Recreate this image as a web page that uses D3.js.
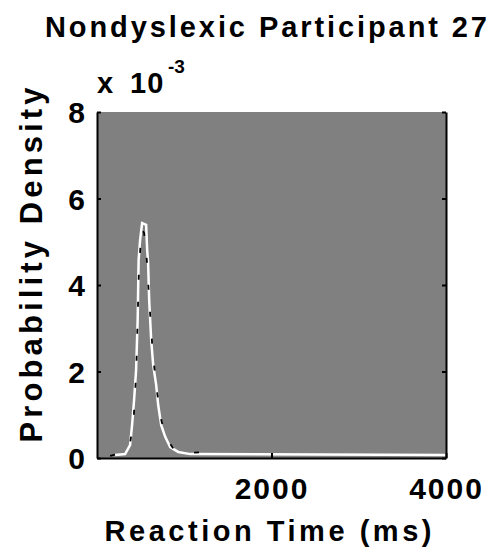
<!DOCTYPE html>
<html>
<head>
<meta charset="utf-8">
<script src="https://cdn.jsdelivr.net/npm/d3@7"></script>
<style>
  body { margin: 0; background: #fff; }
  text { font-family: "Liberation Sans", Arial, sans-serif; font-weight: bold; fill: #000; }
</style>
</head>
<body>
<div class="chart"></div>
<script>
// reaction time (ms) and empirical density (white line)
const rtMs = [207, 322, 379, 402, 425, 448, 466, 477, 494, 517, 563, 575, 586, 598, 621, 644, 678, 701, 736, 782, 839, 931, 1069, 4000];
const densityEmp = [0.00007, 0.00009, 0.0003, 0.00076, 0.00134, 0.00203, 0.00319, 0.00458, 0.00504, 0.00543, 0.00539, 0.00481, 0.00451, 0.00365, 0.00273, 0.00215, 0.00169, 0.00123, 0.00076, 0.00049, 0.00025, 0.00014, 0.00009, 0.00007];

// fitted density (black dashed line)
const fitMs = [150, 300, 380, 420, 450, 480, 510, 540, 570, 600, 640, 690, 740, 800, 880, 1000, 1180, 1300];
const densityFit = [0.00005, 0.00012, 0.00035, 0.0009, 0.002, 0.0043, 0.0053, 0.0052, 0.0046, 0.0036, 0.0024, 0.0015, 0.00085, 0.00045, 0.0002, 0.00012, 0.00013, 0.00008];

const xTicks = [2000, 4000];
const yTicks = [0, 0.002, 0.004, 0.006, 0.008];

const titleText = "Nondyslexic Participant 27";
const xLabel = "Reaction Time (ms)";
const yLabel = "Probability Density";

const svgWidth = 491;
const svgHeight = 548;

const plot = { left: 97, right: 446, top: 112, bottom: 458 };

const svg = d3.select(".chart")
    .append("svg")
    .attr("width", svgWidth)
    .attr("height", svgHeight);

const x = d3.scaleLinear().domain([0, 4000]).range([plot.left, plot.right]);
const y = d3.scaleLinear().domain([0, 0.008]).range([plot.bottom, plot.top]);

// gray background of axes
svg.append("rect")
    .attr("x", plot.left)
    .attr("y", plot.top)
    .attr("width", plot.right - plot.left)
    .attr("height", plot.bottom - plot.top)
    .attr("fill", "#808080");

// curves
const line = d3.line().x(d => x(d[0])).y(d => y(d[1]));

svg.append("path")
    .datum(d3.zip(rtMs, densityEmp))
    .attr("d", line)
    .attr("fill", "none")
    .attr("stroke", "#fff")
    .attr("stroke-width", 2.5);

svg.append("path")
    .datum(d3.zip(fitMs, densityFit))
    .attr("d", line)
    .attr("fill", "none")
    .attr("stroke", "#000")
    .attr("stroke-width", 1.8)
    .attr("stroke-dasharray", "5,22");

// axes (ticks point inward)
const yAxis = d3.axisLeft(y).tickValues(yTicks).tickSizeInner(-4).tickSizeOuter(0)
    .tickPadding(12).tickFormat(d => Math.round(d * 1000));
const yG = svg.append("g").attr("transform", `translate(${plot.left},0)`).call(yAxis);

const yAxisR = d3.axisRight(y).tickValues(yTicks).tickSizeInner(-4).tickSizeOuter(0).tickFormat("");
const yGR = svg.append("g").attr("transform", `translate(${plot.right},0)`).call(yAxisR);

const xAxis = d3.axisBottom(x).tickValues(xTicks).tickSizeInner(-5).tickSizeOuter(0)
    .tickPadding(19).tickFormat(d3.format("d"));
const xG = svg.append("g").attr("transform", `translate(0,${plot.bottom})`).call(xAxis);

[yG, yGR, xG].forEach(g => {
    g.select(".domain").attr("stroke", "#000").attr("stroke-width", 2);
    g.selectAll(".tick line").attr("stroke", "#000").attr("stroke-width", 2);
    g.selectAll("text")
        .attr("font-family", "'Liberation Sans', Arial, sans-serif")
        .attr("font-weight", "bold")
        .attr("font-size", 30)
        .attr("fill", "#000");
});
yG.selectAll("text").attr("dy", "0.36em");
xG.selectAll("text").attr("dy", "0.72em").attr("letter-spacing", 2);

// exponent label
const expo = svg.append("text")
    .attr("y", 93)
    .attr("font-size", 29);
expo.append("tspan").attr("x", 97).text("x");
expo.append("tspan").attr("x", 130).attr("letter-spacing", 1).text("10");
expo.append("tspan").attr("x", 168).attr("dy", -20).attr("font-size", 19).text("-3");

// title
svg.append("text")
    .attr("x", 266)
    .attr("y", 37)
    .attr("text-anchor", "middle")
    .attr("font-size", 29)
    .attr("textLength", 442)
    .attr("lengthAdjust", "spacing")
    .text(titleText);

// x label
svg.append("text")
    .attr("x", 268)
    .attr("y", 541)
    .attr("text-anchor", "middle")
    .attr("font-size", 29)
    .attr("textLength", 327)
    .attr("lengthAdjust", "spacing")
    .text(xLabel);

// y label
svg.append("text")
    .attr("transform", `translate(42,265) rotate(-90)`)
    .attr("text-anchor", "middle")
    .attr("font-size", 31)
    .attr("textLength", 355)
    .attr("lengthAdjust", "spacing")
    .text(yLabel);
</script>
</body>
</html>
